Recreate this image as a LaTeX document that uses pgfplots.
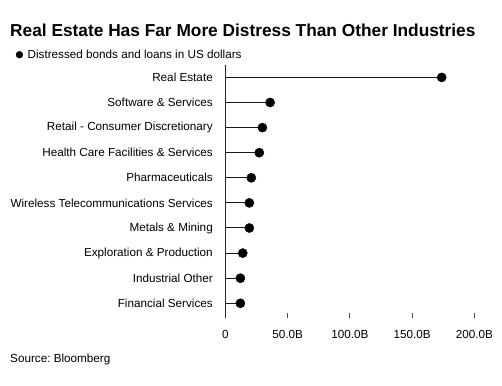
\documentclass[border=0pt]{standalone}
\usepackage{fontspec}
\setmainfont{Liberation Sans}
\usepackage{pgfplots}
\pgfplotsset{compat=1.18}
\frenchspacing
\begin{document}
\begin{tikzpicture}
\path[use as bounding box] (0,0) rectangle (502bp,386bp);
\node[anchor=base west, inner sep=0pt, font=\fontsize{17.3bp}{20bp}\selectfont\bfseries] at (10bp,349.5bp) {Real Estate Has Far More Distress Than Other Industries};
\node[anchor=base west, inner sep=0pt, font=\fontsize{11.7bp}{14bp}\selectfont] at (10bp,24bp) {Source: Bloomberg};
\begin{axis}[
  anchor=origin, at={(225.3bp,82.7bp)},
  x=1.245bp, y=25.1bp,
  xmin=0, xmax=200, ymin=-0.6, ymax=9.5,
  axis x line*=bottom, axis y line*=left,
  x axis line style={draw=none},
  y axis line style={draw=black!85, line width=0.8bp, -},
  xtick={0,50,100,150,200},
  xticklabels={0,50.0B,100.0B,150.0B,200.0B},
  tick align=inside, major tick length=5.6bp,
  xtick style={draw=black!70, line width=0.8bp},
  ytick={0,...,9},
  yticklabels={Financial Services,Industrial Other,Exploration \& Production,Metals \& Mining,Wireless Telecommunications Services,Pharmaceuticals,Health Care Facilities \& Services,Retail - Consumer Discretionary,Software \& Services,Real Estate},
  ytick style={draw=none},
  ticklabel style={font=\fontsize{11.7bp}{14bp}\selectfont},
  xticklabel style={yshift=-8.5bp},
  yticklabel style={xshift=-9bp},
  clip=false,
  legend style={draw=none, fill=none, inner sep=0pt, at={(-0.842,1.04)}, anchor=west, font=\fontsize{11.7bp}{14bp}\selectfont},
  legend cell align=left,
]
\addplot[xcomb, black!90, line width=1bp, forget plot] coordinates {
(12.1,0) (12.1,1) (14.0,2) (19.3,3) (19.3,4) (20.9,5) (27.3,6) (29.8,7) (36.0,8) (173.8,9)};
\addplot[only marks, mark=*, mark size=4.6bp, black, legend image code/.code={\fill[black] (0bp,0bp) circle (3.4bp); \path (6bp,0bp);}] coordinates {
(12.1,0) (12.1,1) (14.0,2) (19.3,3) (19.3,4) (20.9,5) (27.3,6) (29.8,7) (36.0,8) (173.8,9)};
\addlegendentry{Distressed bonds and loans in US dollars}
\end{axis}
\end{tikzpicture}
\end{document}
